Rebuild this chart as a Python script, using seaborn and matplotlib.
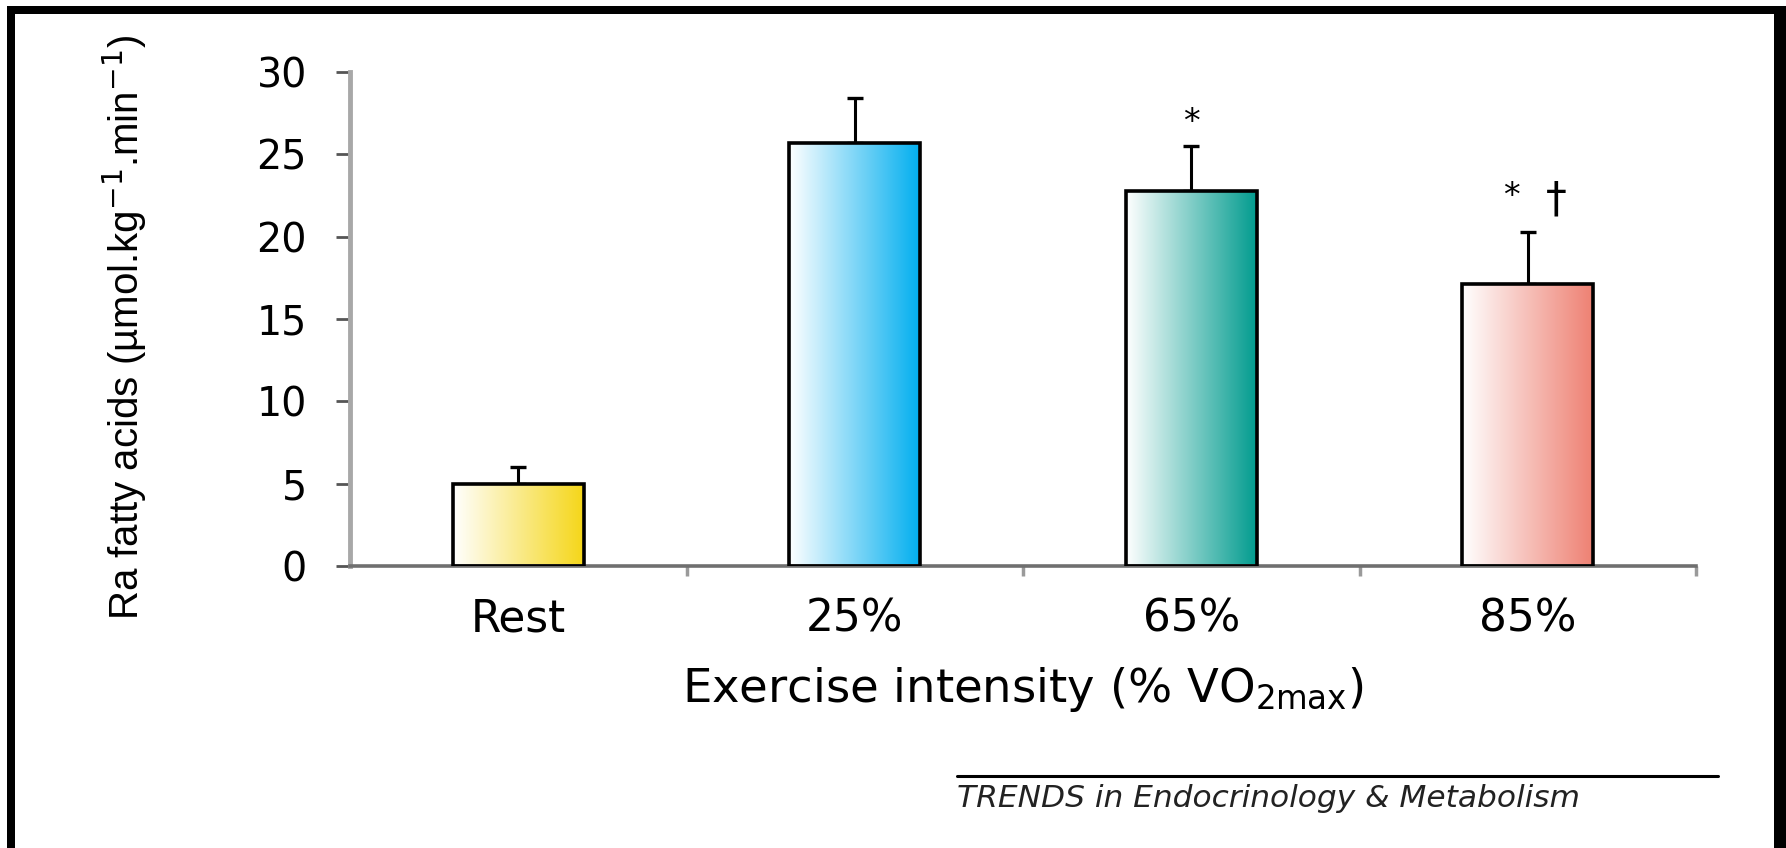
import numpy as np
import pandas as pd
import matplotlib
matplotlib.use("Agg")
import matplotlib.pyplot as plt
from matplotlib.colors import LinearSegmentedColormap
from matplotlib.patches import Rectangle
from matplotlib.lines import Line2D
import seaborn as sns

# Rate of appearance of fatty acids at rest and at three exercise intensities
categories = ["Rest", "25%", "65%", "85%"]
ra_values = [5.0, 25.7, 22.8, 17.1]
sem_upper = [1.0, 2.7, 2.7, 3.2]
bar_colors = ["#F5D617", "#00AEEF", "#009B8E", "#EE8072"]
vs_rest = [False, False, True, True]      # * : different from 25%
vs_65 = [False, False, False, True]       # † : different from 65%
y_ticks = [0, 5, 10, 15, 20, 25, 30]

W, H, DPI = 1786, 848, 100

sns.set_theme(style="white")
plt.rcParams["font.family"] = ["DejaVu Sans"]
plt.rcParams["mathtext.fontset"] = "dejavusans"

fig = plt.figure(figsize=(W / DPI, H / DPI), dpi=DPI)
fig.patch.set_facecolor("white")

# axes placed in pixel units of the figure
ax_l, ax_r, ax_t, ax_b = 350, 1696, 72, 566
ax = fig.add_axes([ax_l / W, 1 - ax_b / H, (ax_r - ax_l) / W, (ax_b - ax_t) / H])
ax.set_facecolor("white")

df = pd.DataFrame({"intensity": categories, "ra": ra_values})
sns.barplot(data=df, x="intensity", y="ra", order=categories, width=0.39,
            color="white", edgecolor="black", linewidth=2.6, saturation=1,
            ax=ax, zorder=3)

# horizontal white-to-colour gradient inside each bar
grad = np.linspace(0, 1, 256).reshape(1, -1)
for patch, col in zip(ax.patches, bar_colors):
    x0, w, h = patch.get_x(), patch.get_width(), patch.get_height()
    cmap = LinearSegmentedColormap.from_list("bar_grad", ["#FFFFFF", col])
    im = ax.imshow(grad, cmap=cmap, extent=[x0, x0 + w, 0, h], aspect="auto",
                   interpolation="bilinear", zorder=2)
    im.set_clip_path(patch)
    patch.set_facecolor("none")

# upper error bars only
xpos = np.arange(len(categories))
eb = ax.errorbar(xpos, ra_values, yerr=[np.zeros(len(sem_upper)), sem_upper],
                 fmt="none", ecolor="black", elinewidth=2.2, capsize=5.5,
                 capthick=2.4, zorder=1.5)
for cap in eb.lines[1]:
    cap.set_color("#8a8a8a")

# significance markers above the error bars
for i, (v, e, star, dag) in enumerate(zip(ra_values, sem_upper, vs_rest, vs_65)):
    top = v + e
    if star and not dag:
        ax.text(i, top + 0.85, "*", ha="center", va="baseline", fontsize=24,
                color="black")
    elif star and dag:
        ax.text(i - 0.05, top + 1.55, "*", ha="center", va="baseline",
                fontsize=24, color="black")
        ax.text(i + 0.085, top + 1.2, "\u2020", ha="center", va="baseline",
                fontsize=30, color="black")

ax.set_xlim(-0.5, len(categories) - 0.5)
ax.set_ylim(0, 30)

for side in ("top", "right"):
    ax.spines[side].set_visible(False)
ax.spines["left"].set_color("#a8a8a8")
ax.spines["left"].set_linewidth(3.5)
ax.spines["bottom"].set_color("#6f6f6f")
ax.spines["bottom"].set_linewidth(2.6)

ax.set_yticks(y_ticks)
ax.set_yticklabels([str(t) for t in y_ticks])
ax.tick_params(axis="y", which="major", left=True, length=10, width=2,
               color="#555555", pad=21, labelsize=28.5, labelcolor="black",
               direction="out")

ax.set_xticks(xpos)
ax.set_xticklabels(categories)
ax.tick_params(axis="x", which="major", bottom=True, length=0, pad=23,
               labelsize=31.5, labelcolor="black")
ax.set_xticks(np.arange(len(categories)) + 0.5, minor=True)
ax.tick_params(axis="x", which="minor", bottom=True, length=7, width=2.5,
               color="#9a9a9a", direction="out")

ax.set_xlabel("Exercise intensity (% VO$_{\\mathrm{2max}}$)", fontsize=33.5,
              color="black")
ax.xaxis.set_label_coords(0.5, -0.2)
ax.set_ylabel("")

fig.text(125 / W, 1 - 327 / H,
         "Ra fatty acids (\u00b5mol.kg$^{-1}$.min$^{-1}$)",
         rotation=90, ha="center", va="center", fontsize=29,
         family=["Liberation Sans", "DejaVu Sans"], color="black")

# journal credit line with rule above it
fig.add_artist(Line2D([957 / W, 1718 / W], [1 - 776 / H, 1 - 776 / H],
                      transform=fig.transFigure, color="black", linewidth=2.2))
fig.text(957 / W, 1 - 807 / H, "TRENDS in Endocrinology & Metabolism",
         ha="left", va="baseline", fontsize=22.5, style="italic", color="#222222")

# outer frame (left, top, right)
for (x, y, w, h) in [(7, 6, 8, H - 6), (7, 6, W - 7, 8), (1774, 6, 12, H - 6)]:
    fig.add_artist(Rectangle((x / W, 1 - (y + h) / H), w / W, h / H,
                             transform=fig.transFigure, color="black",
                             linewidth=0))

fig.savefig("out.png", dpi=DPI, facecolor="white")
